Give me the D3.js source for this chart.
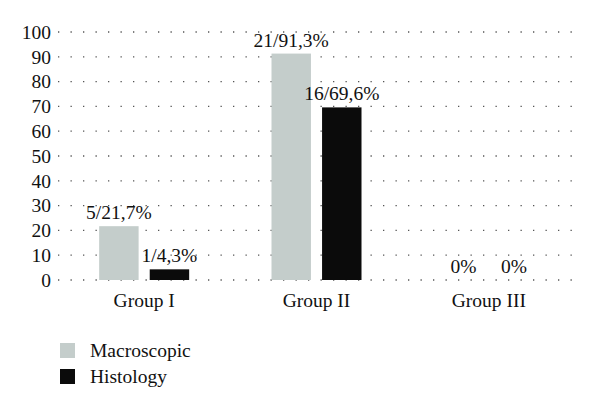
<!DOCTYPE html>
<html>
<head>
<meta charset="utf-8">
<script src="https://cdn.jsdelivr.net/npm/d3@7"></script>
<style>
  body { margin: 0; background: #fff; }
  text { font-family: "Liberation Serif", "DejaVu Serif", serif; fill: #111; }
</style>
</head>
<body>
<div id="main"></div>
<script>

var width = 600,
    height = 410;

// values
var groups = ["Group I", "Group II", "Group III"];
var series = ["Macroscopic", "Histology"];
var macroscopic = [21.7, 91.3, 0];
var histology = [4.3, 69.6, 0];
var macroLabels = ["5/21,7%", "21/91,3%", "0%"];
var histoLabels = ["1/4,3%", "16/69,6%", "0%"];
var yTicks = [0, 10, 20, 30, 40, 50, 60, 70, 80, 90, 100];
var colors = ["#c4cdcb", "#0b0b0b"];

var FONT = "19.5px";

var margin = {left: 58, right: 25, top: 32, bottom: 130};

var svg = d3.select("div#main")
    .append("svg")
    .attr("width", width)
    .attr("height", height);

var x = d3.scaleBand()
    .domain(groups)
    .range([margin.left, width - margin.right]);

var xs = d3.scaleBand()
    .domain(series)
    .range([0, 90])
    .paddingInner(0.22);

var y = d3.scaleLinear()
    .domain([0, 100])
    .range([height - margin.bottom, margin.top]);

// dotted grid
svg.selectAll(".grid")
    .data(yTicks)
    .enter().append("line")
    .attr("class", "grid")
    .attr("x1", margin.left)
    .attr("x2", width - margin.right + 8)
    .attr("y1", function(d) { return y(d); })
    .attr("y2", function(d) { return y(d); })
    .attr("stroke", "#555")
    .attr("stroke-width", 1.3)
    .attr("stroke-dasharray", "1.3,11.2");

// y axis labels
var yAxis = svg.append("g")
    .attr("transform", `translate(${margin.left},0)`)
    .call(d3.axisLeft(y).tickValues(yTicks).tickSize(0).tickPadding(7));
yAxis.select(".domain").remove();
yAxis.selectAll("text")
    .style("font-family", "'Liberation Serif', serif")
    .style("font-size", FONT)
    .attr("fill", "#111");

// x axis labels
var xAxis = svg.append("g")
    .attr("transform", `translate(0,${y(0)})`)
    .call(d3.axisBottom(x).tickSize(0).tickPadding(13));
xAxis.select(".domain").remove();
xAxis.selectAll("text")
    .style("font-family", "'Liberation Serif', serif")
    .style("font-size", FONT)
    .attr("fill", "#111");

var rows = groups.map(function(g, i) {
    return [
        {group: g, key: series[0], value: macroscopic[i], label: macroLabels[i], color: colors[0]},
        {group: g, key: series[1], value: histology[i], label: histoLabels[i], color: colors[1]}
    ];
});

var gg = svg.selectAll(".grp")
    .data(rows)
    .enter().append("g")
    .attr("class", "grp")
    .attr("transform", function(d) { return `translate(${x(d[0].group) + x.bandwidth() / 2 - 45},0)`; });

gg.selectAll("rect")
    .data(function(d) { return d; })
    .enter().append("rect")
    .attr("x", function(d) { return xs(d.key); })
    .attr("width", xs.bandwidth())
    .attr("y", function(d) { return y(d.value); })
    .attr("height", function(d) { return y(0) - y(d.value); })
    .attr("fill", function(d) { return d.color; });

gg.selectAll(".lbl")
    .data(function(d) { return d; })
    .enter().append("text")
    .attr("class", "lbl")
    .attr("x", function(d) { return xs(d.key) + xs.bandwidth() / 2; })
    .attr("y", function(d) { return y(d.value) - 7; })
    .attr("text-anchor", "middle")
    .style("font-size", FONT)
    .text(function(d) { return d.label; });

// legend
var legend = svg.selectAll(".legend")
    .data(series)
    .enter().append("g")
    .attr("class", "legend")
    .attr("transform", function(d, i) { return `translate(60,${343 + i * 26})`; });

legend.append("rect")
    .attr("width", 15)
    .attr("height", 15)
    .attr("fill", function(d, i) { return colors[i]; });

legend.append("text")
    .attr("x", 30)
    .attr("y", 14)
    .style("font-size", FONT)
    .text(function(d) { return d; });

</script>
</body>
</html>
